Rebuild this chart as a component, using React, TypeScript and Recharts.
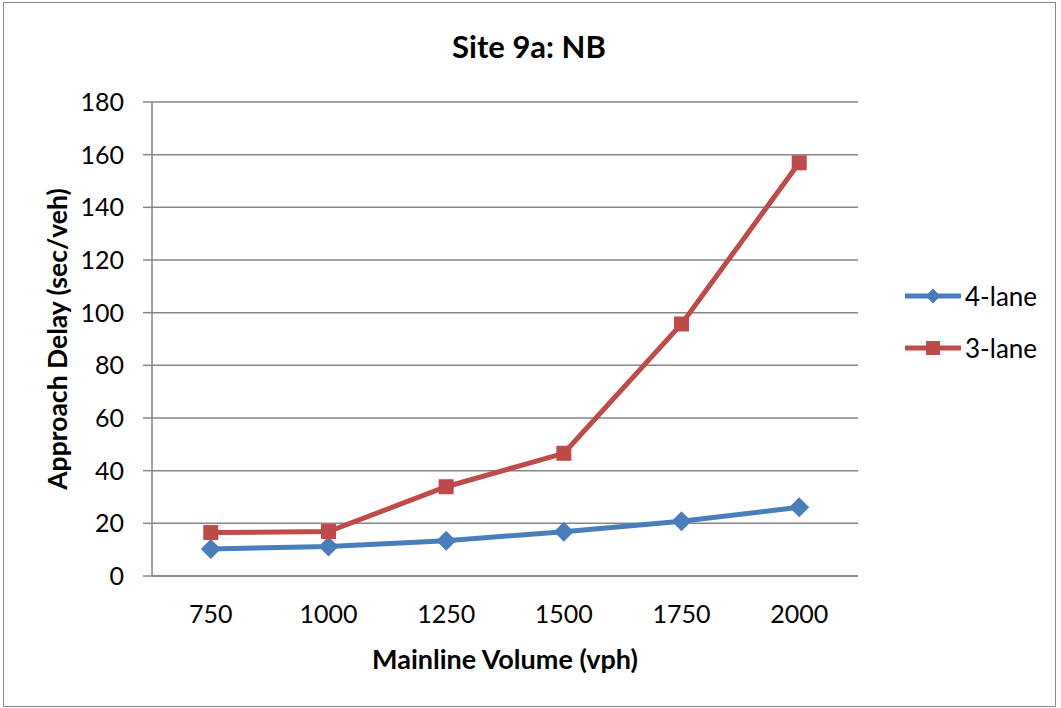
import { LineChart, Line, XAxis, YAxis, CartesianGrid, Legend } from "recharts";

const VOLUMES = ["750", "1000", "1250", "1500", "1750", "2000"];
const FOUR_LANE = [10.3, 11.2, 13.4, 16.8, 20.8, 26.1];
const THREE_LANE = [16.5, 16.9, 33.9, 46.6, 95.7, 156.9];
const Y_TICKS = [0, 20, 40, 60, 80, 100, 120, 140, 160, 180];

const BLUE = "#4A7EBB";
const RED = "#BE4B48";
const GRID = "#868686";
const FONT = "Lato, 'Open Sans', sans-serif";

const data = VOLUMES.map((v, i) => ({
  volume: v,
  fourLane: FOUR_LANE[i],
  threeLane: THREE_LANE[i],
}));

const diamondPath = (cx: number, cy: number, r: number) =>
  `M${cx},${cy - r}L${cx + r},${cy}L${cx},${cy + r}L${cx - r},${cy}Z`;

const DiamondDot = (props: any) => {
  const { cx, cy, index } = props;
  if (cx == null || cy == null) return null;
  return <path key={`d-${index}`} d={diamondPath(cx, cy, 10)} fill={BLUE} />;
};

const SquareDot = (props: any) => {
  const { cx, cy, index } = props;
  if (cx == null || cy == null) return null;
  return (
    <rect key={`s-${index}`} x={cx - 7.5} y={cy - 7.5} width={15} height={15} fill={RED} />
  );
};

const LEGEND_ITEMS = [
  { name: "4-lane", color: BLUE, marker: "diamond" },
  { name: "3-lane", color: RED, marker: "square" },
];

const LegendBox = () => (
  <div style={{ fontFamily: FONT, fontSize: 26, color: "#000" }}>
    {LEGEND_ITEMS.map((item) => (
      <div
        key={item.name}
        style={{ display: "flex", alignItems: "center", height: 52 }}
      >
        <svg width={56} height={20} style={{ marginRight: 4 }}>
          <line x1={1} y1={10} x2={55} y2={10} stroke={item.color} strokeWidth={5} strokeLinecap="round" />
          {item.marker === "diamond" ? (
            <path d={diamondPath(28, 10, 7.5)} fill={item.color} />
          ) : (
            <rect x={21} y={3} width={14} height={14} fill={item.color} />
          )}
        </svg>
        <span>{item.name}</span>
      </div>
    ))}
  </div>
);

export default function App() {
  return (
    <div style={{ position: "absolute", left: 0, top: 0, width: 1061, height: 708, background: "#fff" }}>
      <div
        style={{
          position: "absolute",
          left: 3,
          top: 2,
          width: 1053,
          height: 705,
          border: `1px solid ${GRID}`,
          boxSizing: "border-box",
        }}
      />
      <LineChart
        width={1061}
        height={708}
        data={data}
        margin={{ top: 102, right: 203, bottom: 52, left: 0 }}
        style={{ fontFamily: FONT }}
      >
        <CartesianGrid vertical={false} stroke={GRID} strokeWidth={1.5} />
        <XAxis
          dataKey="volume"
          height={80}
          padding={{ left: 58.8, right: 58.8 }}
          tickLine={false}
          tickSize={0}
          tickMargin={29}
          axisLine={{ stroke: GRID, strokeWidth: 1.5 }}
          tick={{ fill: "#000", fontSize: 25 }}
        />
        <YAxis
          width={152}
          domain={[0, 180]}
          ticks={Y_TICKS}
          interval={0}
          tickSize={9}
          tickMargin={19}
          axisLine={{ stroke: GRID, strokeWidth: 1.5 }}
          tickLine={{ stroke: GRID, strokeWidth: 1.5 }}
          tick={{ fill: "#000", fontSize: 25 }}
        />
        <Legend
          layout="vertical"
          align="center"
          verticalAlign="middle"
          content={LegendBox}
          wrapperStyle={{ left: 905, top: 270, width: 150 }}
        />
        <Line
          dataKey="fourLane"
          name="4-lane"
          stroke={BLUE}
          strokeWidth={5}
          dot={DiamondDot}
          activeDot={false}
          isAnimationActive={false}
        />
        <Line
          dataKey="threeLane"
          name="3-lane"
          stroke={RED}
          strokeWidth={5}
          dot={SquareDot}
          activeDot={false}
          isAnimationActive={false}
        />
      </LineChart>
      <div
        style={{
          position: "absolute",
          left: 529,
          top: 46,
          transform: "translate(-50%, -50%)",
          whiteSpace: "nowrap",
          fontFamily: FONT,
          fontWeight: 700,
          fontSize: 31,
        }}
      >
        Site 9a: NB
      </div>
      <div
        style={{
          position: "absolute",
          left: 505,
          top: 658,
          transform: "translate(-50%, -50%)",
          whiteSpace: "nowrap",
          fontFamily: FONT,
          fontWeight: 700,
          fontSize: 27,
        }}
      >
        Mainline Volume (vph)
      </div>
      <div
        style={{
          position: "absolute",
          left: 57,
          top: 339,
          transform: "translate(-50%, -50%) rotate(-90deg)",
          whiteSpace: "nowrap",
          fontFamily: FONT,
          fontWeight: 700,
          fontSize: 26.5,
        }}
      >
        Approach Delay (sec/veh)
      </div>
    </div>
  );
}
